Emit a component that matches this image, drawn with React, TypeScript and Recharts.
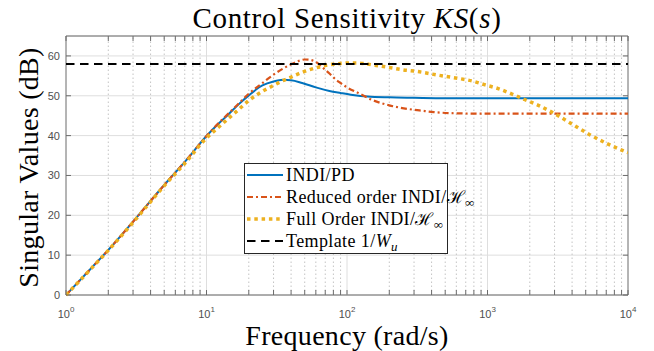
import React from 'react';
import {
  LineChart,
  Line,
  XAxis,
  YAxis,
  CartesianGrid,
  ReferenceLine,
  ReferenceArea,
  Legend,
  Label,
} from 'recharts';

// ---- data -------------------------------------------------------------

const indiPdFreq = [1, 1.5, 2, 3, 4, 5, 7, 10, 12, 14, 17, 20, 25, 30, 35, 40, 48, 60, 75, 90, 110, 140, 200, 300, 500, 1000, 3000, 10000];
const indiPdGain = [0, 6.6, 11.3, 18.4, 23.6, 27.6, 33.4, 39.9, 42.8, 45.0, 47.9, 50.1, 52.6, 53.6, 54.0, 53.9, 53.2, 52.1, 51.2, 50.7, 50.2, 49.8, 49.6, 49.5, 49.4, 49.4, 49.4, 49.4];

const reducedFreq = [1, 1.5, 2, 3, 4, 5, 7, 10, 12, 14, 17, 20, 25, 30, 35, 40, 45, 50, 55, 60, 67, 75, 83, 90, 100, 122, 150, 200, 240, 350, 415, 600, 1000, 3000, 10000];
const reducedGain = [0, 6.6, 11.3, 18.4, 23.6, 27.6, 33.4, 39.9, 42.9, 45.2, 48.1, 50.5, 53.2, 55.3, 56.8, 57.9, 58.7, 59.1, 59.0, 58.5, 57.1, 55.6, 54.1, 53.2, 52.1, 50.6, 49.0, 47.6, 47.0, 46.2, 45.9, 45.6, 45.5, 45.5, 45.5];

const fullFreq = [1, 1.5, 2, 3, 4, 5, 7, 10, 12, 14, 17, 20, 25, 30, 35, 40, 48, 60, 70, 80, 100, 120, 155, 200, 240, 315, 440, 610, 780, 950, 1190, 1480, 1850, 2300, 3040, 4000, 5300, 7000, 10000];
const fullGain = [0, 6.5, 11.2, 18.2, 23.4, 27.4, 33.0, 39.4, 41.9, 44.0, 46.6, 48.8, 51.1, 52.6, 53.8, 54.7, 55.9, 57.0, 57.6, 57.9, 58.2, 58.2, 57.7, 57.1, 56.6, 56.1, 55.2, 54.4, 53.7, 52.8, 51.8, 50.5, 49.0, 47.6, 45.4, 42.9, 40.3, 38.1, 35.7];

const templateFreq = [1, 10000];
const templateGain = [58, 58];

const decadeTicks = [1, 10, 100, 1000, 10000];
const minorTicks = [
  2, 3, 4, 5, 6, 7, 8, 9,
  20, 30, 40, 50, 60, 70, 80, 90,
  200, 300, 400, 500, 600, 700, 800, 900,
  2000, 3000, 4000, 5000, 6000, 7000, 8000, 9000,
];
const gainTicks = [0, 10, 20, 30, 40, 50, 60];

// ---- layout / style ---------------------------------------------------

const WIDTH = 654;
const HEIGHT = 351;
const MARGIN = { top: 36, right: 26, bottom: 0, left: 0 };
const Y_AXIS_W = 66;
const X_AXIS_H = 56;
const PLOT_W = WIDTH - MARGIN.left - MARGIN.right - Y_AXIS_W;
const PLOT_H = HEIGHT - MARGIN.top - MARGIN.bottom - X_AXIS_H;
const TICK_LEN = 5;
const X_TICK_MARGIN = 4;
const Y_TICK_MARGIN = 6;

const SERIF = '"Liberation Serif", "Times New Roman", serif';
const SANS = '"Liberation Sans", Arial, sans-serif';
const AXIS_COLOR = '#6b6b6b';
const TICK_TEXT = '#4f4f4f';
const GRID_COLOR = '#dedede';
const MINOR_GRID = '#c4c4c4';

const toPoints = (freq: number[], gain: number[]) =>
  freq.map((f, i) => ({ f, v: gain[i] }));

type SeriesStyle = {
  id: string;
  color: string;
  width: number;
  dash?: string;
  label: React.ReactNode;
  data: { f: number; v: number }[];
};

const Hinf = () => (
  <>
    <span style={{ fontFamily: '"DejaVu Serif", serif', fontSize: '0.95em' }}>ℋ</span>
    <sub style={{ fontSize: '0.72em', verticalAlign: '-0.3em', lineHeight: 0 }}>∞</sub>
  </>
);

const series: SeriesStyle[] = [
  {
    id: 'indiPd',
    color: '#0072BD',
    width: 2,
    label: <>INDI/PD</>,
    data: toPoints(indiPdFreq, indiPdGain),
  },
  {
    id: 'reduced',
    color: '#D95319',
    width: 2.2,
    dash: '6 3 2 3',
    label: (
      <>
        Reduced order INDI/<Hinf />
      </>
    ),
    data: toPoints(reducedFreq, reducedGain),
  },
  {
    id: 'full',
    color: '#EDB120',
    width: 3.5,
    dash: '3.5 3.8',
    label: (
      <>
        Full Order INDI/<Hinf />
      </>
    ),
    data: toPoints(fullFreq, fullGain),
  },
  {
    id: 'template',
    color: '#000000',
    width: 2,
    dash: '8.5 5.5',
    label: (
      <>
        Template 1/<i>W</i>
        <sub style={{ fontSize: '0.72em', verticalAlign: '-0.3em', lineHeight: 0 }}>
          <i>u</i>
        </sub>
      </>
    ),
    data: toPoints(templateFreq, templateGain),
  },
];

// ---- axis ticks (drawn inward on both sides of the box) ---------------

const XTick = (props: any) => {
  const { x, y, payload } = props;
  const v = payload.value as number;
  const exp = Math.round(Math.log10(v));
  const isDecade = Math.abs(Math.pow(10, exp) - v) < 1e-9;
  const axisY = y - X_TICK_MARGIN;
  const topY = axisY - PLOT_H;
  return (
    <g>
      <line x1={x} x2={x} y1={axisY} y2={axisY - TICK_LEN} stroke={AXIS_COLOR} strokeWidth={1} />
      <line x1={x} x2={x} y1={topY} y2={topY + TICK_LEN} stroke={AXIS_COLOR} strokeWidth={1} />
      {isDecade && (
        <text x={x} y={axisY + 23} textAnchor="middle" fontFamily={SANS} fontSize={11} fill={TICK_TEXT}>
          10
          <tspan dy={-6} fontSize={8}>
            {exp}
          </tspan>
        </text>
      )}
    </g>
  );
};

const YTick = (props: any) => {
  const { x, y, payload } = props;
  const axisX = x + Y_TICK_MARGIN;
  const rightX = axisX + PLOT_W;
  return (
    <g>
      <line x1={axisX} x2={axisX + TICK_LEN} y1={y} y2={y} stroke={AXIS_COLOR} strokeWidth={1} />
      <line x1={rightX} x2={rightX - TICK_LEN} y1={y} y2={y} stroke={AXIS_COLOR} strokeWidth={1} />
      <text x={x} y={y + 4} textAnchor="end" fontFamily={SANS} fontSize={11} fill={TICK_TEXT}>
        {payload.value}
      </text>
    </g>
  );
};

const XTitle = (props: any) => {
  const { x, y, width } = props.viewBox;
  return (
    <text x={x + width / 2} y={y + 50} textAnchor="middle" fontFamily={SERIF} fontSize={28} letterSpacing={0.3} fill="#000">
      Frequency (rad/s)
    </text>
  );
};

const YTitle = (props: any) => {
  const { x, y, height } = props.viewBox;
  const cx = x + 38;
  const cy = y + height / 2 + 2;
  return (
    <text
      x={cx}
      y={cy}
      transform={`rotate(-90 ${cx} ${cy})`}
      textAnchor="middle"
      fontFamily={SERIF}
      fontSize={28}
      letterSpacing={0.3}
      fill="#000"
    >
      Singular Values (dB)
    </text>
  );
};

// ---- legend ------------------------------------------------------------

const LegendBox = () => (
  <div
    style={{
      width: 204,
      height: 91,
      boxSizing: 'border-box',
      border: '1px solid #262626',
      background: '#ffffff',
      padding: '0 0 0 2px',
      fontFamily: SERIF,
      fontSize: 18,
      letterSpacing: 0.4,
      color: '#000',
    }}
  >
    {series.map((s) => (
      <div key={s.id} style={{ display: 'flex', alignItems: 'center', height: 22, whiteSpace: 'nowrap' }}>
        <svg width={36} height={10} style={{ flex: 'none' }}>
          <line
            x1={0}
            x2={36}
            y1={5}
            y2={5}
            stroke={s.color}
            strokeWidth={s.width}
            strokeDasharray={s.dash}
          />
        </svg>
        <span style={{ marginLeft: 3, lineHeight: '22px' }}>{s.label}</span>
      </div>
    ))}
  </div>
);

// ---- chart -------------------------------------------------------------

export default function App() {
  return (
    <div style={{ position: 'absolute', left: 0, top: 0, width: WIDTH, height: HEIGHT, background: '#fff' }}>
      <div
        style={{
          position: 'absolute',
          left: MARGIN.left + Y_AXIS_W,
          width: PLOT_W,
          top: 4,
          textAlign: 'center',
          fontFamily: SERIF,
          fontSize: 29,
          lineHeight: '29px',
          letterSpacing: 0.7,
          color: '#000',
          zIndex: 2,
        }}
      >
        Control Sensitivity <i>KS</i>(<i>s</i>)
      </div>
      <LineChart width={WIDTH} height={HEIGHT} margin={MARGIN}>
        <CartesianGrid vertical={false} stroke={GRID_COLOR} strokeWidth={1} />
        {minorTicks.map((t) => (
          <ReferenceLine key={`m${t}`} x={t} stroke={MINOR_GRID} strokeWidth={1} strokeDasharray="1.5 2.5" />
        ))}
        {decadeTicks.slice(1, -1).map((t) => (
          <ReferenceLine key={`d${t}`} x={t} stroke={GRID_COLOR} strokeWidth={1} />
        ))}
        <XAxis
          dataKey="f"
          type="number"
          scale="log"
          domain={[1, 10000]}
          allowDataOverflow
          ticks={[...decadeTicks, ...minorTicks].sort((a, b) => a - b)}
          interval={0}
          tickSize={0}
          tickMargin={X_TICK_MARGIN}
          axisLine={false}
          tickLine={false}
          height={X_AXIS_H}
          tick={(p: any) => <XTick {...p} />}
        >
          <Label content={(p: any) => <XTitle {...p} />} />
        </XAxis>
        <YAxis
          dataKey="v"
          type="number"
          domain={[0, 65]}
          ticks={gainTicks}
          interval={0}
          tickSize={0}
          tickMargin={Y_TICK_MARGIN}
          axisLine={false}
          tickLine={false}
          width={Y_AXIS_W}
          tick={(p: any) => <YTick {...p} />}
        >
          <Label content={(p: any) => <YTitle {...p} />} />
        </YAxis>
        {series.map((s) => (
          <Line
            key={s.id}
            data={s.data}
            dataKey="v"
            name={s.id}
            type="monotone"
            stroke={s.color}
            strokeWidth={s.width}
            strokeDasharray={s.dash}
            dot={false}
            activeDot={false}
            isAnimationActive={false}
          />
        ))}
        <ReferenceArea x1={1} x2={10000} y1={0} y2={65} fill="none" stroke={AXIS_COLOR} strokeWidth={1} ifOverflow="visible" />
        <Legend
          layout="horizontal"
          verticalAlign="middle"
          align="center"
          content={() => <LegendBox />}
          wrapperStyle={{ left: 244, top: 163, width: 204, height: 91 }}
        />
      </LineChart>
    </div>
  );
}
